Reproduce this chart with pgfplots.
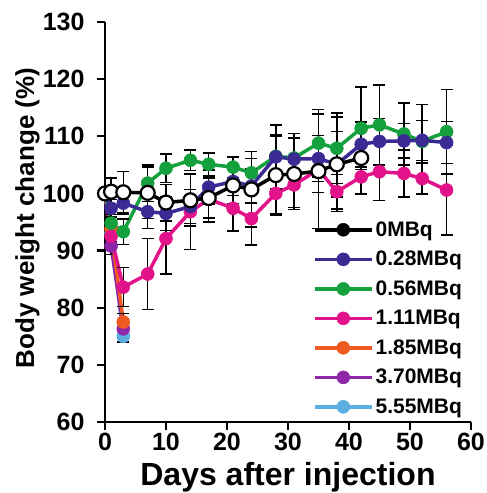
\documentclass[border=0pt]{standalone}
\usepackage{fontspec}
\setmainfont{Liberation Sans}
\usepackage{pgfplots}
\usepackage{pgfplotstable}
\pgfplotsset{compat=1.18}

\definecolor{czero}{HTML}{000000}
\definecolor{cblue}{HTML}{3B2A93}
\definecolor{cgreen}{HTML}{14A03C}
\definecolor{cpink}{HTML}{E2138A}
\definecolor{corange}{HTML}{EE5A20}
\definecolor{cpurple}{HTML}{8E27A8}
\definecolor{clight}{HTML}{5BAEE0}

% day, mean (%), error
\pgfplotstableread{
day y err
0 100 0
1 100.3 2.4
3 100.2 3.6
7 100.1 4.5
10 98.4 3.2
14 98.8 4.5
17 99.2 3.5
21 101.4 3.2
24 100.7 6.6
28 103.2 7
31 103.4 6.2
35 103.9 10
38 105.1 8.3
42 106.2 6.2
}\tzero
\pgfplotstableread{
day y err
0 100 0
1 97.4 1.5
3 98.3 2
7 96.8 2.9
10 96.5 3
14 97.7 3
17 101.1 3
21 102.1 2.5
24 101.3 3
28 106.4 5.6
31 106.0 4.5
35 106.1 4
38 105.1 5.7
42 108.6 4
45 109.1 4
49 109.2 3
52 109.3 3.5
56 108.9 3.7
}\tblue
\pgfplotstableread{
day y err
0 100 0
1 94.8 1.5
3 93.3 2.2
7 101.8 3.2
10 104.4 2.5
14 105.8 1.8
17 105.1 2
21 104.6 1.8
24 103.6 2.5
28 106.5 3.5
31 106.2 3.5
35 108.8 5.9
38 107.9 6.2
42 111.4 7.2
45 112.0 7
49 110.4 5.4
52 109.1 6.5
56 110.8 7.4
}\tgreen
\pgfplotstableread{
day y err
0 100 0
1 92.5 2
3 83.6 3.4
7 85.9 6.2
10 92.1 6.2
14 96.8 6.6
17 99.0 4
21 97.4 4
24 95.6 4.6
28 100.0 3.5
31 101.5 4
35 104.2 4
38 100.3 3
42 102.9 3
45 103.8 5
49 103.5 4.1
52 102.6 2.7
56 100.6 7.9
}\tpink
\pgfplotstableread{
day y err
0 100 0
1 93.8 1.5
3 77.5 1.5
}\torange
\pgfplotstableread{
day y err
0 100 0
1 90.8 1.5
3 76.3 1.5
}\tpurple
\pgfplotstableread{
day y err
0 100 0
1 93.0 1.5
3 75.0 1
}\tlight

\pgfplotsset{
  ebar/.style={error bars/.cd, y dir=both, y explicit,
    error bar style={black, line width=1.5pt},
    error mark options={black, rotate=90, mark size=6pt, line width=1.5pt}},
  ser/.style={color=#1, line width=3.5pt, mark=*, mark size=6.5pt,
    mark options={fill=#1, draw=#1, line width=0.5pt}, forget plot},
  leg/.style={#1, line width=3.5pt, mark=*, mark size=6.5pt,
    mark options={fill=#1, draw=#1, line width=0.5pt}},
}

\begin{document}
\begin{tikzpicture}
\useasboundingbox (-105pt,-71pt) rectangle (382pt,422pt);
\begin{axis}[
    scale only axis,
    width=366pt, height=400pt,
    xmin=0, xmax=60, ymin=60, ymax=130,
    clip=false,
    axis lines=left,
    axis line style={-, line width=2.4pt, black},
    xtick={0,10,...,60},
    ytick={60,70,...,130},
    tick align=outside,
    major tick length=8pt,
    tick style={line width=2.4pt, black},
    /pgf/number format/assume math mode=true,
    ticklabel style={font=\bfseries\fontsize{25}{25}\selectfont},
    yticklabel style={xshift=-9pt},
    xlabel={Days after injection},
    ylabel={Body weight change (\%)},
    xlabel style={font=\bfseries\fontsize{32}{32}\selectfont,
      at={(axis description cs:0.5,-0.138)}, anchor=center},
    ylabel style={font=\bfseries\fontsize{26}{26}\selectfont,
      at={(axis description cs:-0.212,0.51)}, anchor=center},
    legend style={draw=none, fill=none, at={(0.568,0.0125)}, anchor=south west,
      font=\bfseries\fontsize{21}{21}\selectfont,
      row sep=9.4pt, inner sep=0pt},
    legend cell align=left,
    legend image code/.code={\draw[mark repeat=2, mark phase=2, #1]
      plot coordinates {(0pt,0pt) (28.5pt,0pt) (57pt,0pt)};},
  ]
  \addplot[ser=clight, ebar] table[x=day, y=y, y error=err] {\tlight};
  \addplot[ser=cpurple, ebar] table[x=day, y=y, y error=err] {\tpurple};
  \addplot[ser=corange, ebar] table[x=day, y=y, y error=err] {\torange};
  \addplot[ser=cpink, ebar] table[x=day, y=y, y error=err] {\tpink};
  \addplot[ser=cgreen, ebar] table[x=day, y=y, y error=err] {\tgreen};
  \addplot[ser=cblue, ebar] table[x=day, y=y, y error=err] {\tblue};
  \addplot[color=black, line width=3.5pt, mark=*, mark size=7pt,
    mark options={fill=white, draw=black, line width=2.2pt}, forget plot, ebar]
    table[x=day, y=y, y error=err] {\tzero};

  \addlegendimage{leg=black}
  \addlegendentry{0MBq}
  \addlegendimage{leg=cblue}
  \addlegendentry{0.28MBq}
  \addlegendimage{leg=cgreen}
  \addlegendentry{0.56MBq}
  \addlegendimage{leg=cpink}
  \addlegendentry{1.11MBq}
  \addlegendimage{leg=corange}
  \addlegendentry{1.85MBq}
  \addlegendimage{leg=cpurple}
  \addlegendentry{3.70MBq}
  \addlegendimage{leg=clight}
  \addlegendentry{5.55MBq}
\end{axis}
\end{tikzpicture}
\end{document}
